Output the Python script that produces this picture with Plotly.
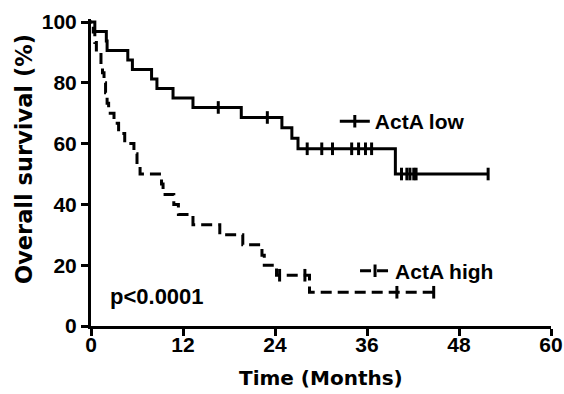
import plotly.graph_objects as go

# ---------------- data ----------------
# ActA low: time (months) of each step / censored subject, survival (%) after it, censor flag
low_time = [0, 0.5, 2.0, 2.1, 4.8, 5.4, 7.9, 8.6, 10.7, 13.3,
            16.6, 19.6, 23.0, 24.9, 26.2, 27.0,
            28.2, 30.1, 31.5, 34.0, 34.9, 35.8, 36.6,
            39.7, 40.5, 41.2, 41.6, 42.1, 42.4, 51.8]
low_surv = [100, 96.9, 93.8, 90.6, 87.5, 84.4, 81.3, 78.1, 75.0, 71.9,
            71.9, 68.6, 68.6, 65.2, 61.8, 58.3,
            58.3, 58.3, 58.3, 58.3, 58.3, 58.3, 58.3,
            50.0, 50.0, 50.0, 50.0, 50.0, 50.0, 50.0]
low_cens = [0, 0, 0, 0, 0, 0, 0, 0, 0, 0,
            1, 0, 1, 0, 0, 0,
            1, 1, 1, 1, 1, 1, 1,
            0, 1, 1, 1, 1, 1, 1]

# ActA high
high_time = [0, 0.3, 0.5, 0.7, 1.3, 1.5, 1.7, 1.9, 2.1, 2.3,
             3.0, 3.6, 4.4, 5.6, 6.0, 6.4, 9.2, 9.4, 10.8, 11.4,
             13.3, 16.8, 19.8, 22.3, 22.6, 24.2, 24.6, 27.9, 28.5, 39.9, 44.7]
high_surv = [100, 96.7, 93.3, 90.0, 86.7, 83.3, 80.0, 76.7, 73.3, 70.0,
             66.7, 63.3, 60.0, 56.7, 53.3, 50.0, 46.7, 43.3, 40.0, 36.7,
             33.3, 30.0, 26.7, 23.3, 20.0, 16.7, 16.7, 16.7, 11.1, 11.1, 11.1]
high_cens = [0, 0, 0, 0, 0, 0, 0, 0, 0, 0,
             0, 0, 0, 0, 0, 0, 0, 0, 0, 0,
             0, 0, 0, 0, 0, 0, 1, 1, 0, 1, 1]

x_ticks = [0, 12, 24, 36, 48, 60]
y_ticks = [0, 20, 40, 60, 80, 100]

group_names = ["ActA low", "ActA high"]
p_text = "p&lt;0.0001"
x_title = "Time (Months)"
y_title = "Overall survival (%)"

# ---------------- figure ----------------
TICK_FONT = dict(family="Liberation Sans, Arial, sans-serif", size=21, color="black", weight="bold")
TITLE_FONT = dict(family="DejaVu Sans, sans-serif", size=20, color="black", weight="bold")


def km_trace(t, s, c, name, dash, legend):
    # path drawn from the last point back to the first (shape 'vh' == forward 'hv'),
    # so that the legend symbol picks up a visible censor tick
    xs = list(reversed(t))
    ys = list(reversed(s))
    cs = ["black" if f else "rgba(0,0,0,0)" for f in reversed(c)]
    return go.Scatter(
        x=xs, y=ys, name=name, mode="lines+markers", showlegend=True,
        line=dict(shape="vh", color="black", width=3, dash=dash),
        marker=dict(symbol="line-ns-open", size=9, color=cs, line=dict(width=3)),
        legend=legend, hoverinfo="skip",
    )


fig = go.Figure()
fig.add_trace(km_trace(low_time, low_surv, low_cens, group_names[0], "solid", "legend"))
fig.add_trace(km_trace(high_time, high_surv, high_cens, group_names[1], "11px,6px", "legend2"))

axis_common = dict(
    showline=True, linewidth=3, linecolor="black",
    ticks="outside", ticklen=7, tickwidth=3, tickcolor="black",
    showgrid=False, zeroline=False, tickfont=TICK_FONT, automargin=False,
)

fig.update_layout(
    width=564, height=394, showlegend=True,
    margin=dict(l=91, r=13, t=19, b=68, autoexpand=False),
    paper_bgcolor="white", plot_bgcolor="white",
    xaxis=dict(range=[0, 60], tickmode="array", tickvals=x_ticks,
               ticklabelstandoff=-9, **axis_common),
    yaxis=dict(range=[0, 101], tickmode="array", tickvals=y_ticks, **axis_common),
    legend=dict(x=0.530, y=0.666, xanchor="left", yanchor="middle",
                bgcolor="rgba(0,0,0,0)", font=TICK_FONT, itemsizing="trace"),
    legend2=dict(x=0.574, y=0.179, xanchor="left", yanchor="middle",
                 bgcolor="rgba(0,0,0,0)", font=TICK_FONT, itemsizing="trace"),
    annotations=[
        dict(text=y_title, textangle=-90, xref="paper", yref="paper",
             x=-0.1457, y=0.544, xanchor="center", yanchor="middle",
             showarrow=False, font=dict(TITLE_FONT, size=22.5)),
        dict(text=x_title, xref="paper", yref="paper",
             x=0.5, y=-0.169, xanchor="center", yanchor="middle",
             showarrow=False, font=TITLE_FONT),
        dict(text=p_text, xref="paper", yref="paper", x=0.037, y=0.0945,
             xanchor="left", yanchor="middle", showarrow=False, font=dict(TICK_FONT, size=22)),
    ],
)

fig.write_html("out.html")
